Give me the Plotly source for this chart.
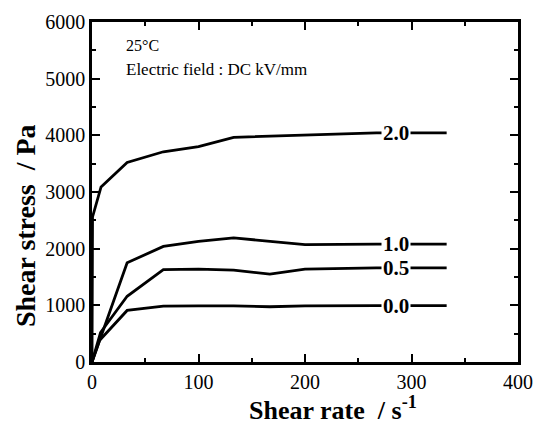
import numpy as np
import plotly.graph_objects as go

# Data
field_labels = ["2.0", "1.0", "0.5", "0.0"]
x_20 = [0, 0.5, 8.5, 33, 67, 100, 133, 200, 267, 333]
y_20 = [0, 2560, 3090, 3520, 3710, 3800, 3965, 4000, 4045, 4045]
x_10 = [0, 33, 67, 100, 133, 200, 267, 333]
y_10 = [0, 1750, 2040, 2130, 2190, 2070, 2080, 2080]
x_05 = [0, 8, 33, 67, 100, 133, 167, 200, 267, 333]
y_05 = [0, 520, 1160, 1630, 1640, 1620, 1550, 1640, 1660, 1660]
x_00 = [0, 7, 33, 67, 100, 133, 167, 200, 267, 333]
y_00 = [0, 380, 910, 985, 990, 990, 975, 990, 995, 995]
label_x = 285
x_ticks = [0, 100, 200, 300, 400]
y_ticks = [0, 1000, 2000, 3000, 4000, 5000, 6000]

SERIF = "Liberation Serif"
series = [(x_20, y_20), (x_10, y_10), (x_05, y_05), (x_00, y_00)]

fig = go.Figure()
for (xs, ys), name in zip(series, field_labels):
    fig.add_trace(go.Scatter(x=xs, y=ys, mode="lines", name=name,
                             line=dict(color="black", width=2.8, shape="linear"),
                             showlegend=False))
    fig.add_annotation(x=label_x, y=float(np.interp(label_x, xs, ys)),
                       text="<b>" + name + "</b>", showarrow=False,
                       bgcolor="white", borderpad=1,
                       font=dict(family=SERIF, size=21, color="black"))

fig.add_annotation(xref="paper", yref="paper", x=0.075, y=0.93, xanchor="left", yanchor="middle",
                   text="25°C", showarrow=False,
                   font=dict(family=SERIF, size=16, color="black"))
fig.add_annotation(xref="paper", yref="paper", x=0.075, y=0.86, xanchor="left", yanchor="middle",
                   text="Electric field : DC kV/mm", showarrow=False,
                   font=dict(family=SERIF, size=17, color="black"))

# axis titles (offset like the reference)
fig.add_annotation(xref="paper", yref="paper", x=0.566, y=-0.137, xanchor="center", yanchor="middle",
                   text="<b>Shear rate  / s<sup>-1</sup></b>", showarrow=False,
                   font=dict(family=SERIF, size=26, color="black"))
fig.add_annotation(xref="paper", yref="paper", x=-0.157, y=0.40, xanchor="center", yanchor="middle",
                   text="<b>Shear stress  / Pa</b>", showarrow=False, textangle=-90,
                   font=dict(family=SERIF, size=28, color="black"))

def axis_cfg(rng, vals, minor_dtick):
    return dict(
        range=rng, tickmode="array", tickvals=vals, ticktext=[str(v) for v in vals],
        showline=True, linecolor="black", linewidth=2.5, mirror="ticks",
        ticks="inside", ticklen=8, tickwidth=2.2, tickcolor="black",
        showgrid=False, zeroline=False, automargin=False,
        tickfont=dict(family=SERIF, size=20, color="black"),
        minor=dict(ticks="inside", ticklen=4, tickwidth=2, tickcolor="black",
                   dtick=minor_dtick, showgrid=False),
    )

fig.update_layout(
    width=535, height=432, margin=dict(l=92, r=17, t=22, b=70),
    font=dict(family=SERIF, color="black", size=20),
    plot_bgcolor="white", paper_bgcolor="white",
    xaxis=axis_cfg([0, 400], x_ticks, 50),
    yaxis=axis_cfg([0, 6000], y_ticks, 500),
)

fig.write_html("out.html")
